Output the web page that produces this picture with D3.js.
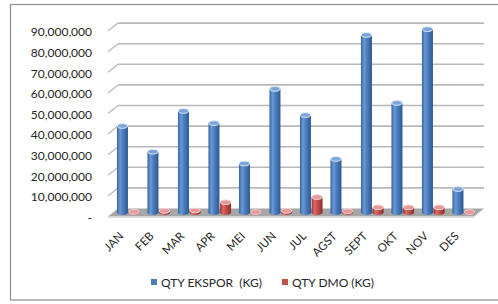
<!DOCTYPE html>
<html>
<head>
<meta charset="utf-8">
<script src="https://cdnjs.cloudflare.com/ajax/libs/d3/7.8.5/d3.min.js"></script>
<style>
  body { margin: 0; background: #fff; }
  text { font-family: Lato, "Open Sans", sans-serif; fill: #262626; }
</style>
</head>
<body>
<svg id="chart"></svg>
<script>
const months = ["JAN", "FEB", "MAR", "APR", "MEI", "JUN", "JUL", "AGST", "SEPT", "OKT", "NOV", "DES"];
const ekspor = [42.0e6, 29.5e6, 49.3e6, 43.4e6, 23.8e6, 60.0e6, 47.3e6, 26.0e6, 86.2e6, 53.2e6, 89.0e6, 11.4e6];
const dmo = [0.3e6, 0.8e6, 1.0e6, 5.0e6, 0.2e6, 0.8e6, 7.5e6, 0.6e6, 2.5e6, 2.5e6, 2.5e6, 0.2e6];
const yTicks = [0, 10e6, 20e6, 30e6, 40e6, 50e6, 60e6, 70e6, 80e6, 90e6];
const seriesNames = ["QTY EKSPOR  (KG)", "QTY DMO (KG)"];

const width = 498, height = 304;
const svg = d3.select("#chart").attr("width", width).attr("height", height);

// 3d look: front plane, back wall offset by depth
const depthX = 10, depthY = -8;
const frontLeft = 108, frontRight = 474, frontZero = 216.5;

const y = d3.scaleLinear().domain([0, 90e6]).range([0, 185.4]);
const x = d3.scaleBand().domain(months).range([frontLeft, frontRight]);

// outer frame
svg.append("rect")
    .attr("x", 10.5).attr("y", 4.5)
    .attr("width", 500).attr("height", 295.5)
    .attr("fill", "none").attr("stroke", "#8c8c8c").attr("stroke-width", 1.2);

const defs = svg.append("defs");
function cylGrad(id, stops) {
    const g = defs.append("linearGradient").attr("id", id)
        .attr("x1", "0%").attr("x2", "100%").attr("y1", "0%").attr("y2", "0%");
    stops.forEach(s => g.append("stop").attr("offset", s[0]).attr("stop-color", s[1]));
}
cylGrad("gBlue", [["0%", "#35649f"], ["28%", "#6a98d4"], ["55%", "#4b7dbd"], ["100%", "#2c5891"]]);
cylGrad("gRed", [["0%", "#9c3835"], ["28%", "#dd6764"], ["55%", "#c0504d"], ["100%", "#8a2e2b"]]);

// back wall gridlines + left wall diagonals
const grid = svg.append("g");
yTicks.filter(v => v > 0).forEach(v => {
    const yf = frontZero - y(v), yb = yf + depthY;
    grid.append("line")
        .attr("x1", frontLeft + depthX).attr("x2", frontRight + depthX)
        .attr("y1", yb).attr("y2", yb)
        .attr("stroke", "#b8b8b8").attr("stroke-width", 1.6);
    grid.append("line")
        .attr("x1", frontLeft).attr("x2", frontLeft + depthX)
        .attr("y1", yf).attr("y2", yb)
        .attr("stroke", "#b8b8b8").attr("stroke-width", 1.3);
});

// floor
svg.append("polygon")
    .attr("points", [
        [frontLeft, frontZero], [frontRight, frontZero],
        [frontRight + depthX, frontZero + depthY], [frontLeft + depthX, frontZero + depthY]
    ].map(p => p.join(",")).join(" "))
    .attr("fill", "#a6a6a6").attr("stroke", "#d0d0d0").attr("stroke-width", 0.8);
svg.append("line")
    .attr("x1", frontLeft).attr("x2", frontRight)
    .attr("y1", frontZero + 0.8).attr("y2", frontZero + 0.8)
    .attr("stroke", "#dadada").attr("stroke-width", 1.5);

// y axis labels on the front plane
const yAxis = d3.axisLeft(d3.scaleLinear().domain([0, 90e6]).range([frontZero, frontZero - 185.4]))
    .tickValues(yTicks)
    .tickSize(0)
    .tickPadding(0)
    .tickFormat(v => v === 0 ? "-" : d3.format(",")(v));
const ya = svg.append("g").attr("transform", "translate(92,1)").call(yAxis);
ya.select(".domain").remove();
ya.selectAll("text").attr("font-size", 12).attr("fill", "#262626")
    .style("font-family", "Lato, 'Open Sans', sans-serif");

// bars: cylinders at mid depth
const midX = depthX / 2, midZero = frontZero + depthY / 2;
const barW = 11, ry = 2.6;
const series = [
    { values: ekspor, grad: "url(#gBlue)", top: "#7ba4da", rim: "#dce7f5", off: -barW / 2 - 0.3 },
    { values: dmo, grad: "url(#gRed)", top: "#e59a98", rim: "#f6d3d2", off: barW / 2 + 0.3 }
];
const bars = svg.append("g");
months.forEach((m, i) => {
    series.forEach(s => {
        const cx = x(m) + x.bandwidth() / 2 + midX + s.off;
        const h = y(s.values[i]);
        const yt = midZero - h;
        const g = bars.append("g");
        g.append("ellipse").attr("cx", cx).attr("cy", midZero).attr("rx", barW / 2).attr("ry", ry)
            .attr("fill", s.grad);
        g.append("rect").attr("x", cx - barW / 2).attr("y", yt).attr("width", barW).attr("height", h)
            .attr("fill", s.grad);
        g.append("ellipse").attr("cx", cx).attr("cy", yt).attr("rx", barW / 2 - 0.4).attr("ry", ry - 0.3)
            .attr("fill", s.top).attr("stroke", s.rim).attr("stroke-width", 1);
    });
});

// x labels, rotated
const xl = svg.append("g");
months.forEach(m => {
    const px = x(m) + x.bandwidth() / 2 - 2, py = 234;
    xl.append("text")
        .attr("transform", `translate(${px},${py}) rotate(-45)`)
        .attr("text-anchor", "end")
        .attr("dy", "0.35em")
        .attr("font-size", 11.5)
        .text(m);
});

// legend
const legend = svg.append("g");
const legendItems = [
    { name: seriesNames[0], color: "#4a7ebb", x: 151 },
    { name: seriesNames[1], color: "#c0504d", x: 282 }
];
legendItems.forEach(it => {
    legend.append("rect").attr("x", it.x).attr("y", 279).attr("width", 6).attr("height", 6)
        .attr("fill", it.color);
    legend.append("text").attr("x", it.x + 10).attr("y", 286.5)
        .attr("font-size", 12).attr("xml:space", "preserve").text(it.name);
});
</script>
</body>
</html>
